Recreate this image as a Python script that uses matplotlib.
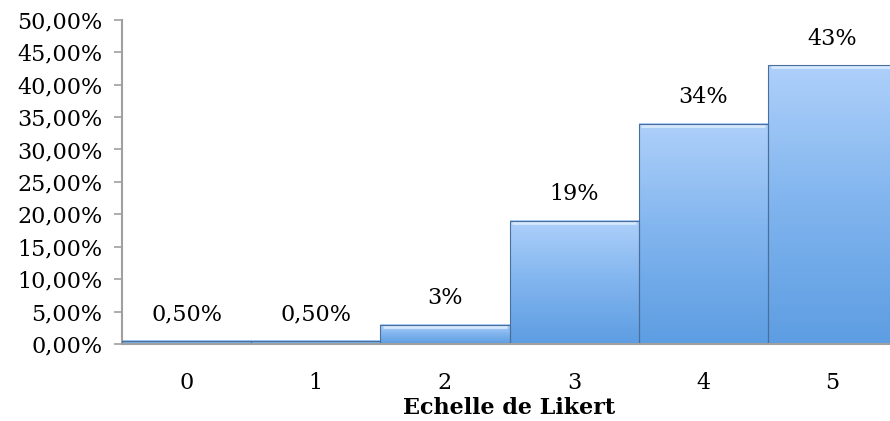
import numpy as np
import matplotlib
matplotlib.use('Agg')
import matplotlib.pyplot as plt
from matplotlib.colors import LinearSegmentedColormap

# data
categories = ['0', '1', '2', '3', '4', '5']
values = [0.5, 0.5, 3, 19, 34, 43]
labels = ['0,50%', '0,50%', '3%', '19%', '34%', '43%']
yticks = [0, 5, 10, 15, 20, 25, 30, 35, 40, 45, 50]

plt.rcParams['font.family'] = ['DejaVu Serif']

fig = plt.figure(figsize=(8.9, 4.21), dpi=100)
ax = fig.add_axes([0.137, 0.183, 0.871, 0.77])

x = np.arange(len(categories))
bars = ax.bar(x, values, width=1.0, color='none', edgecolor='#4a6f9a', linewidth=0.8, zorder=3)

# vertical gradient inside each bar
cmap = LinearSegmentedColormap.from_list('blu', ['#5d9de2', '#80b4ee', '#aed0fa'])
grad = np.linspace(0, 1, 256).reshape(-1, 1)
for b in bars:
    x0, w, h = b.get_x(), b.get_width(), b.get_height()
    ax.imshow(grad, extent=(x0, x0 + w, 0, h), origin='lower', cmap=cmap,
              aspect='auto', zorder=2)
    # light top bevel
    if h > 1:
        ax.plot([x0 + 0.02, x0 + w - 0.02], [h - 0.35, h - 0.35], color='#d6e8fd',
                lw=2, zorder=2.5, solid_capstyle='butt')

for xi, v, lab in zip(x, values, labels):
    ax.annotate(lab, (xi, v), xytext=(0, 19), textcoords='offset points',
                ha='center', va='center', fontsize=16)

ax.set_xlim(-0.5, 5.5)
ax.set_ylim(0, 50)
ax.set_yticks(yticks)
ax.set_yticklabels(['{:.2f}%'.format(t).replace('.', ',') for t in yticks], fontsize=16)
ax.set_xticks(x)
ax.set_xticklabels(categories, fontsize=16)
ax.tick_params(axis='x', length=0, pad=20)
ax.tick_params(axis='y', length=6, color='#a0a0a0', width=1.2, pad=8)
ax.set_xlabel('Echelle de Likert', fontsize=16, fontweight='bold', labelpad=2)

for s in ['top', 'right']:
    ax.spines[s].set_visible(False)
for s in ['left', 'bottom']:
    ax.spines[s].set_color('#a0a0a0')
    ax.spines[s].set_linewidth(1.5)
ax.spines['bottom'].set_zorder(4)

fig.savefig('out.png', dpi=100)
